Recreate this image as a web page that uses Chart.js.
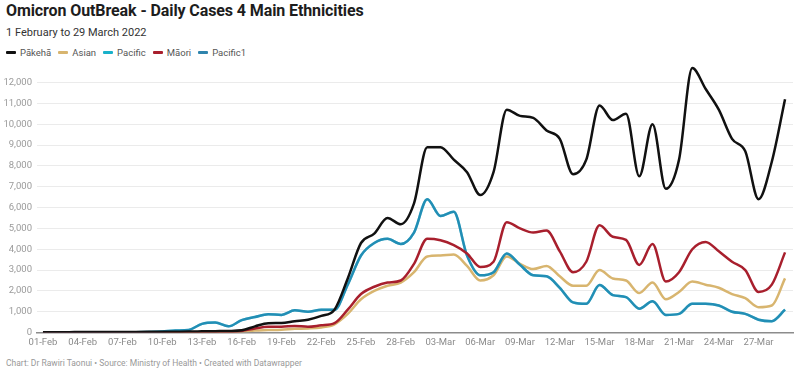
<!DOCTYPE html>
<html>
<head>
<meta charset="utf-8">
<script src="https://cdn.jsdelivr.net/npm/chart.js@4.4.1/dist/chart.umd.min.js"></script>
<style>
  html, body { margin: 0; padding: 0; background: #fff; }
  body { width: 800px; height: 382px; position: relative; overflow: hidden; font-family: Roboto, "Noto Sans", sans-serif; }
  #title { position: absolute; left: 6px; top: 1px; font-size: 16px; font-weight: 700; color: #1d1d1d; letter-spacing: -0.1px; }
  #subtitle { position: absolute; left: 6px; top: 26px; font-size: 11px; color: #333; }
  #legend { position: absolute; left: 6px; top: 47px; font-size: 9.5px; color: #555; display: flex; gap: 0; }
  .li { display: flex; align-items: center; margin-right: 7px; }
  .sw { display: inline-block; width: 10px; height: 2.5px; margin-right: 4px; border-radius: 1px; }
  #footer { position: absolute; left: 6px; top: 358px; font-size: 8.5px; color: #999; }
  #wrap { position: absolute; left: 0; top: 51px; width: 800px; height: 301px; }
</style>
</head>
<body>
<div id="title">Omicron OutBreak - Daily Cases 4 Main Ethnicities</div>
<div id="subtitle">1 February to 29 March 2022</div>
<div id="legend"></div>
<div id="wrap"><canvas id="c"></canvas></div>
<div id="footer">Chart: Dr Rawiri Taonui • Source: Ministry of Health • Created with Datawrapper</div>
<script>
const dates = [
  "01-Feb","02-Feb","03-Feb","04-Feb","05-Feb","06-Feb","07-Feb","08-Feb","09-Feb","10-Feb",
  "11-Feb","12-Feb","13-Feb","14-Feb","15-Feb","16-Feb","17-Feb","18-Feb","19-Feb","20-Feb",
  "21-Feb","22-Feb","23-Feb","24-Feb","25-Feb","26-Feb","27-Feb","28-Feb","01-Mar","02-Mar",
  "03-Mar","04-Mar","05-Mar","06-Mar","07-Mar","08-Mar","09-Mar","10-Mar","11-Mar","12-Mar",
  "13-Mar","14-Mar","15-Mar","16-Mar","17-Mar","18-Mar","19-Mar","20-Mar","21-Mar","22-Mar",
  "23-Mar","24-Mar","25-Mar","26-Mar","27-Mar","28-Mar","29-Mar"
];
const pakeha = [
  20,20,22,25,25,28,30,32,35,40,45,50,60,70,80,110,300,450,460,550,
  620,800,1100,2600,4300,4750,5500,5200,6200,8900,8900,8300,7700,6600,7700,10700,10400,10300,9700,9300,
  7600,8300,10900,10200,10500,7500,10000,6900,8300,12700,11700,10700,9300,8700,6400,8200,11200
];
const asian = [
  5,5,5,6,6,7,8,8,10,12,14,16,20,25,30,50,100,120,140,180,
  200,250,400,900,1600,2000,2250,2400,2900,3650,3700,3750,3200,2500,2750,3650,3300,3050,3200,2700,
  2250,2250,3000,2600,2500,1900,2400,1600,1950,2450,2300,2150,1850,1650,1220,1300,2600
];
const pacific = [
  5,5,6,8,10,12,15,20,30,50,100,130,420,480,300,600,750,880,850,1070,
  1000,1100,1100,2300,3700,4300,4500,4250,4800,6400,5600,5800,3700,2750,2900,3800,3250,2750,2700,2150,
  1450,1380,2280,1800,1700,1150,1500,850,900,1380,1380,1300,1000,900,620,550,1100
];
const maori = [
  3,3,3,4,4,5,5,6,7,8,10,12,15,20,30,80,200,280,280,320,
  280,350,450,1100,1850,2200,2400,2500,3300,4500,4430,4200,3800,3150,3400,5300,5000,4800,4900,3900,
  2900,3400,5150,4600,4450,3250,4250,2450,2900,4000,4350,3900,3400,3000,1950,2300,3850
];
const pacific1 = [
  5,5,6,8,10,12,15,20,30,50,100,130,420,480,300,600,750,880,850,1070,
  1000,1100,1100,2300,3700,4300,4500,4250,4800,6400,5600,5800,3700,2750,2900,3800,3250,2750,2700,2150,
  1450,1380,2280,1800,1700,1150,1500,850,900,1380,1380,1300,1000,900,620,550,1100
];
const seriesNames = ["Pākehā","Asian","Pacific","Māori","Pacific1"];
const seriesColors = ["#111111","#d8b56f","#19b1ca","#a81f2d","rgba(44,108,160,0.5)"];
const legendColors = ["#111111","#d8b56f","#19b1ca","#a81f2d","#2f84ad"];
const yTicks = [0,1000,2000,3000,4000,5000,6000,7000,8000,9000,10000,11000,12000];

const legend = document.getElementById('legend');
seriesNames.forEach((n, i) => {
  const d = document.createElement('span');
  d.className = 'li';
  d.innerHTML = '<span class="sw" style="background:' + legendColors[i] + '"></span>' + n;
  legend.appendChild(d);
});

const allSeries = [pakeha, asian, pacific, maori, pacific1];
const orders = [0, 4, 3, 1, 2];
const datasets = allSeries.map((arr, k) => ({
  label: seriesNames[k],
  data: arr.map((v, i) => ({ x: i, y: v })),
  borderColor: seriesColors[k],
  borderWidth: 2.5,
  pointRadius: 0,
  fill: false,
  cubicInterpolationMode: 'monotone',
  order: orders[k]
}));

new Chart(document.getElementById('c'), {
  type: 'line',
  data: { datasets },
  options: {
    responsive: true,
    maintainAspectRatio: false,
    animation: false,
    events: [],
    layout: { padding: { top: 3, right: 7, bottom: 0, left: 0 } },
    plugins: { legend: { display: false }, tooltip: { enabled: false } },
    scales: {
      x: {
        type: 'linear',
        min: -0.45,
        max: 56.6,
        afterBuildTicks: s => { s.ticks = []; for (let i = 0; i < dates.length; i += 3) s.ticks.push({ value: i }); },
        ticks: {
          autoSkip: false,
          maxRotation: 0,
          padding: 4,
          color: '#8a8a8a',
          font: { family: 'Roboto', size: 9.5 },
          callback: v => dates[v] || ''
        },
        grid: { display: false, drawTicks: false },
        border: { display: true, color: '#8c8c8c', width: 1.5 }
      },
      y: {
        min: 0,
        max: 13000,
        afterBuildTicks: s => { s.ticks = yTicks.map(v => ({ value: v })); },
        afterFit: s => { s.width = 37; },
        ticks: {
          padding: 5,
          color: '#9a9a9a',
          font: { family: 'Roboto', size: 9.5 },
          callback: v => v.toLocaleString('en-US')
        },
        grid: { color: '#ebebeb', lineWidth: 1, drawTicks: false },
        border: { display: false }
      }
    }
  }
});
</script>
</body>
</html>
